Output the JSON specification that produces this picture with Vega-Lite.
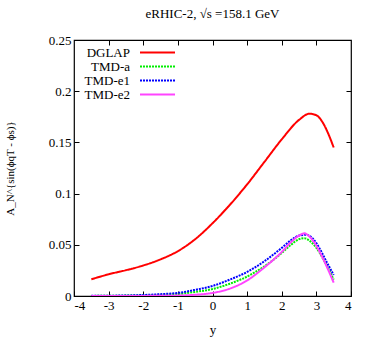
{
  "$schema": "https://vega.github.io/schema/vega-lite/v6.json",
  "width": 277,
  "height": 256,
  "autosize": {"type": "none"},
  "padding": {"left": 74, "top": 40, "right": 23, "bottom": 44},
  "background": "white",
  "title": {"text": "eRHIC-2, √s =158.1 GeV", "font": "Liberation Serif, DejaVu Serif, serif", "fontSize": 13, "fontWeight": "normal", "offset": 13, "color": "black"},
  "config": {
    "view": {"stroke": "black", "strokeWidth": 1.2},
    "axis": {"labelFont": "Liberation Serif", "titleFont": "Liberation Serif", "labelFontSize": 13, "titleFontSize": 13, "titleFontWeight": "normal", "labelColor": "black", "titleColor": "black", "grid": false, "domain": false, "tickColor": "black", "tickSize": -5}
  },
  "data": {"values": [
    {"y": -3.5, "A": 0.0163, "curve": "DGLAP"},
    {"y": -3.0, "A": 0.0212, "curve": "DGLAP"},
    {"y": -2.5, "A": 0.0252, "curve": "DGLAP"},
    {"y": -2.0, "A": 0.0298, "curve": "DGLAP"},
    {"y": -1.5, "A": 0.0358, "curve": "DGLAP"},
    {"y": -1.0, "A": 0.0438, "curve": "DGLAP"},
    {"y": -0.5, "A": 0.0555, "curve": "DGLAP"},
    {"y": 0.0, "A": 0.071, "curve": "DGLAP"},
    {"y": 0.5, "A": 0.089, "curve": "DGLAP"},
    {"y": 1.0, "A": 0.109, "curve": "DGLAP"},
    {"y": 1.5, "A": 0.131, "curve": "DGLAP"},
    {"y": 2.0, "A": 0.153, "curve": "DGLAP"},
    {"y": 2.5, "A": 0.172, "curve": "DGLAP"},
    {"y": 2.8, "A": 0.178, "curve": "DGLAP"},
    {"y": 3.0, "A": 0.1765, "curve": "DGLAP"},
    {"y": 3.2, "A": 0.1685, "curve": "DGLAP"},
    {"y": 3.35, "A": 0.158, "curve": "DGLAP"},
    {"y": 3.5, "A": 0.145, "curve": "DGLAP"},
    {"y": -3.5, "A": 0.0001, "curve": "TMD-a"},
    {"y": -3.0, "A": 0.0002, "curve": "TMD-a"},
    {"y": -2.5, "A": 0.0004, "curve": "TMD-a"},
    {"y": -2.0, "A": 0.0007, "curve": "TMD-a"},
    {"y": -1.5, "A": 0.0012, "curve": "TMD-a"},
    {"y": -1.0, "A": 0.002, "curve": "TMD-a"},
    {"y": -0.5, "A": 0.004, "curve": "TMD-a"},
    {"y": 0.0, "A": 0.0068, "curve": "TMD-a"},
    {"y": 0.5, "A": 0.012, "curve": "TMD-a"},
    {"y": 1.0, "A": 0.019, "curve": "TMD-a"},
    {"y": 1.5, "A": 0.029, "curve": "TMD-a"},
    {"y": 2.0, "A": 0.042, "curve": "TMD-a"},
    {"y": 2.25, "A": 0.0495, "curve": "TMD-a"},
    {"y": 2.5, "A": 0.0555, "curve": "TMD-a"},
    {"y": 2.65, "A": 0.0565, "curve": "TMD-a"},
    {"y": 2.8, "A": 0.054, "curve": "TMD-a"},
    {"y": 3.0, "A": 0.047, "curve": "TMD-a"},
    {"y": 3.2, "A": 0.036, "curve": "TMD-a"},
    {"y": 3.5, "A": 0.016, "curve": "TMD-a"},
    {"y": -3.5, "A": 0.0002, "curve": "TMD-e1"},
    {"y": -3.0, "A": 0.0003, "curve": "TMD-e1"},
    {"y": -2.5, "A": 0.0005, "curve": "TMD-e1"},
    {"y": -2.0, "A": 0.001, "curve": "TMD-e1"},
    {"y": -1.5, "A": 0.0018, "curve": "TMD-e1"},
    {"y": -1.0, "A": 0.003, "curve": "TMD-e1"},
    {"y": -0.5, "A": 0.006, "curve": "TMD-e1"},
    {"y": 0.0, "A": 0.0098, "curve": "TMD-e1"},
    {"y": 0.5, "A": 0.016, "curve": "TMD-e1"},
    {"y": 1.0, "A": 0.0235, "curve": "TMD-e1"},
    {"y": 1.5, "A": 0.034, "curve": "TMD-e1"},
    {"y": 2.0, "A": 0.047, "curve": "TMD-e1"},
    {"y": 2.25, "A": 0.054, "curve": "TMD-e1"},
    {"y": 2.5, "A": 0.059, "curve": "TMD-e1"},
    {"y": 2.7, "A": 0.0598, "curve": "TMD-e1"},
    {"y": 2.9, "A": 0.056, "curve": "TMD-e1"},
    {"y": 3.1, "A": 0.046, "curve": "TMD-e1"},
    {"y": 3.3, "A": 0.033, "curve": "TMD-e1"},
    {"y": 3.5, "A": 0.0205, "curve": "TMD-e1"},
    {"y": -3.5, "A": 0.0, "curve": "TMD-e2"},
    {"y": -3.0, "A": 0.0, "curve": "TMD-e2"},
    {"y": -2.5, "A": 0.0, "curve": "TMD-e2"},
    {"y": -2.0, "A": 0.0001, "curve": "TMD-e2"},
    {"y": -1.5, "A": 0.0002, "curve": "TMD-e2"},
    {"y": -1.0, "A": 0.0004, "curve": "TMD-e2"},
    {"y": -0.5, "A": 0.0012, "curve": "TMD-e2"},
    {"y": 0.0, "A": 0.003, "curve": "TMD-e2"},
    {"y": 0.5, "A": 0.0072, "curve": "TMD-e2"},
    {"y": 1.0, "A": 0.0152, "curve": "TMD-e2"},
    {"y": 1.5, "A": 0.028, "curve": "TMD-e2"},
    {"y": 2.0, "A": 0.043, "curve": "TMD-e2"},
    {"y": 2.25, "A": 0.052, "curve": "TMD-e2"},
    {"y": 2.5, "A": 0.059, "curve": "TMD-e2"},
    {"y": 2.65, "A": 0.0612, "curve": "TMD-e2"},
    {"y": 2.8, "A": 0.058, "curve": "TMD-e2"},
    {"y": 3.0, "A": 0.049, "curve": "TMD-e2"},
    {"y": 3.2, "A": 0.036, "curve": "TMD-e2"},
    {"y": 3.5, "A": 0.013, "curve": "TMD-e2"}
  ]},
  "layer": [
    {
      "mark": {"type": "line", "interpolate": "monotone", "strokeWidth": 2, "clip": true},
      "encoding": {
        "x": {"field": "y", "type": "quantitative", "scale": {"domain": [-4, 4], "nice": false}, "axis": {"title": "y", "labelFont": "Liberation Serif", "titleFont": "Liberation Serif", "values": [-4, -3, -2, -1, 0, 1, 2, 3, 4], "labelExpr": "'' + datum.value", "labelPadding": 8, "titlePadding": 11}},
        "y": {"field": "A", "type": "quantitative", "scale": {"domain": [0, 0.25], "nice": false}, "axis": {"title": "A_N^{sin(ϕqT - ϕs)}", "labelFont": "Liberation Serif", "titleFont": "Liberation Serif", "titleFontSize": 11, "values": [0, 0.05, 0.1, 0.15, 0.2, 0.25], "format": "~g", "labelPadding": 8, "titlePadding": 33}},
        "color": {"field": "curve", "type": "nominal", "scale": {"domain": ["DGLAP", "TMD-a", "TMD-e1", "TMD-e2"], "range": ["#ff0000", "#00ee00", "#0000ff", "#ff44ff"]},
          "legend": {"title": null, "orient": "none", "legendX": 0, "legendY": 6, "symbolType": "M-3.5,0H3.5", "symbolSize": 100, "symbolStrokeWidth": 2, "labelFont": "Liberation Serif", "labelFontSize": 13, "labelColor": "black", "rowPadding": -1.5, "symbolOffset": 77, "labelAlign": "right", "labelOffset": -34}},
        "strokeDash": {"field": "curve", "type": "nominal", "scale": {"domain": ["DGLAP", "TMD-a", "TMD-e1", "TMD-e2"], "range": [[1, 0], [2, 1], [2, 1], [1, 0]]}, "legend": null}
      }
    },
    {
      "mark": {"type": "point", "opacity": 0},
      "encoding": {
        "x": {"field": "y", "type": "quantitative", "scale": {"domain": [-4, 4], "nice": false}, "axis": {"orient": "top", "title": null, "labels": false, "values": [-3, -2, -1, 0, 1, 2, 3]}},
        "y": {"field": "A", "type": "quantitative", "scale": {"domain": [0, 0.25], "nice": false}, "axis": {"orient": "right", "title": null, "labels": false, "values": [0.05, 0.1, 0.15, 0.2]}}
      }
    }
  ],
  "resolve": {"scale": {"x": "independent", "y": "independent"}}
}
